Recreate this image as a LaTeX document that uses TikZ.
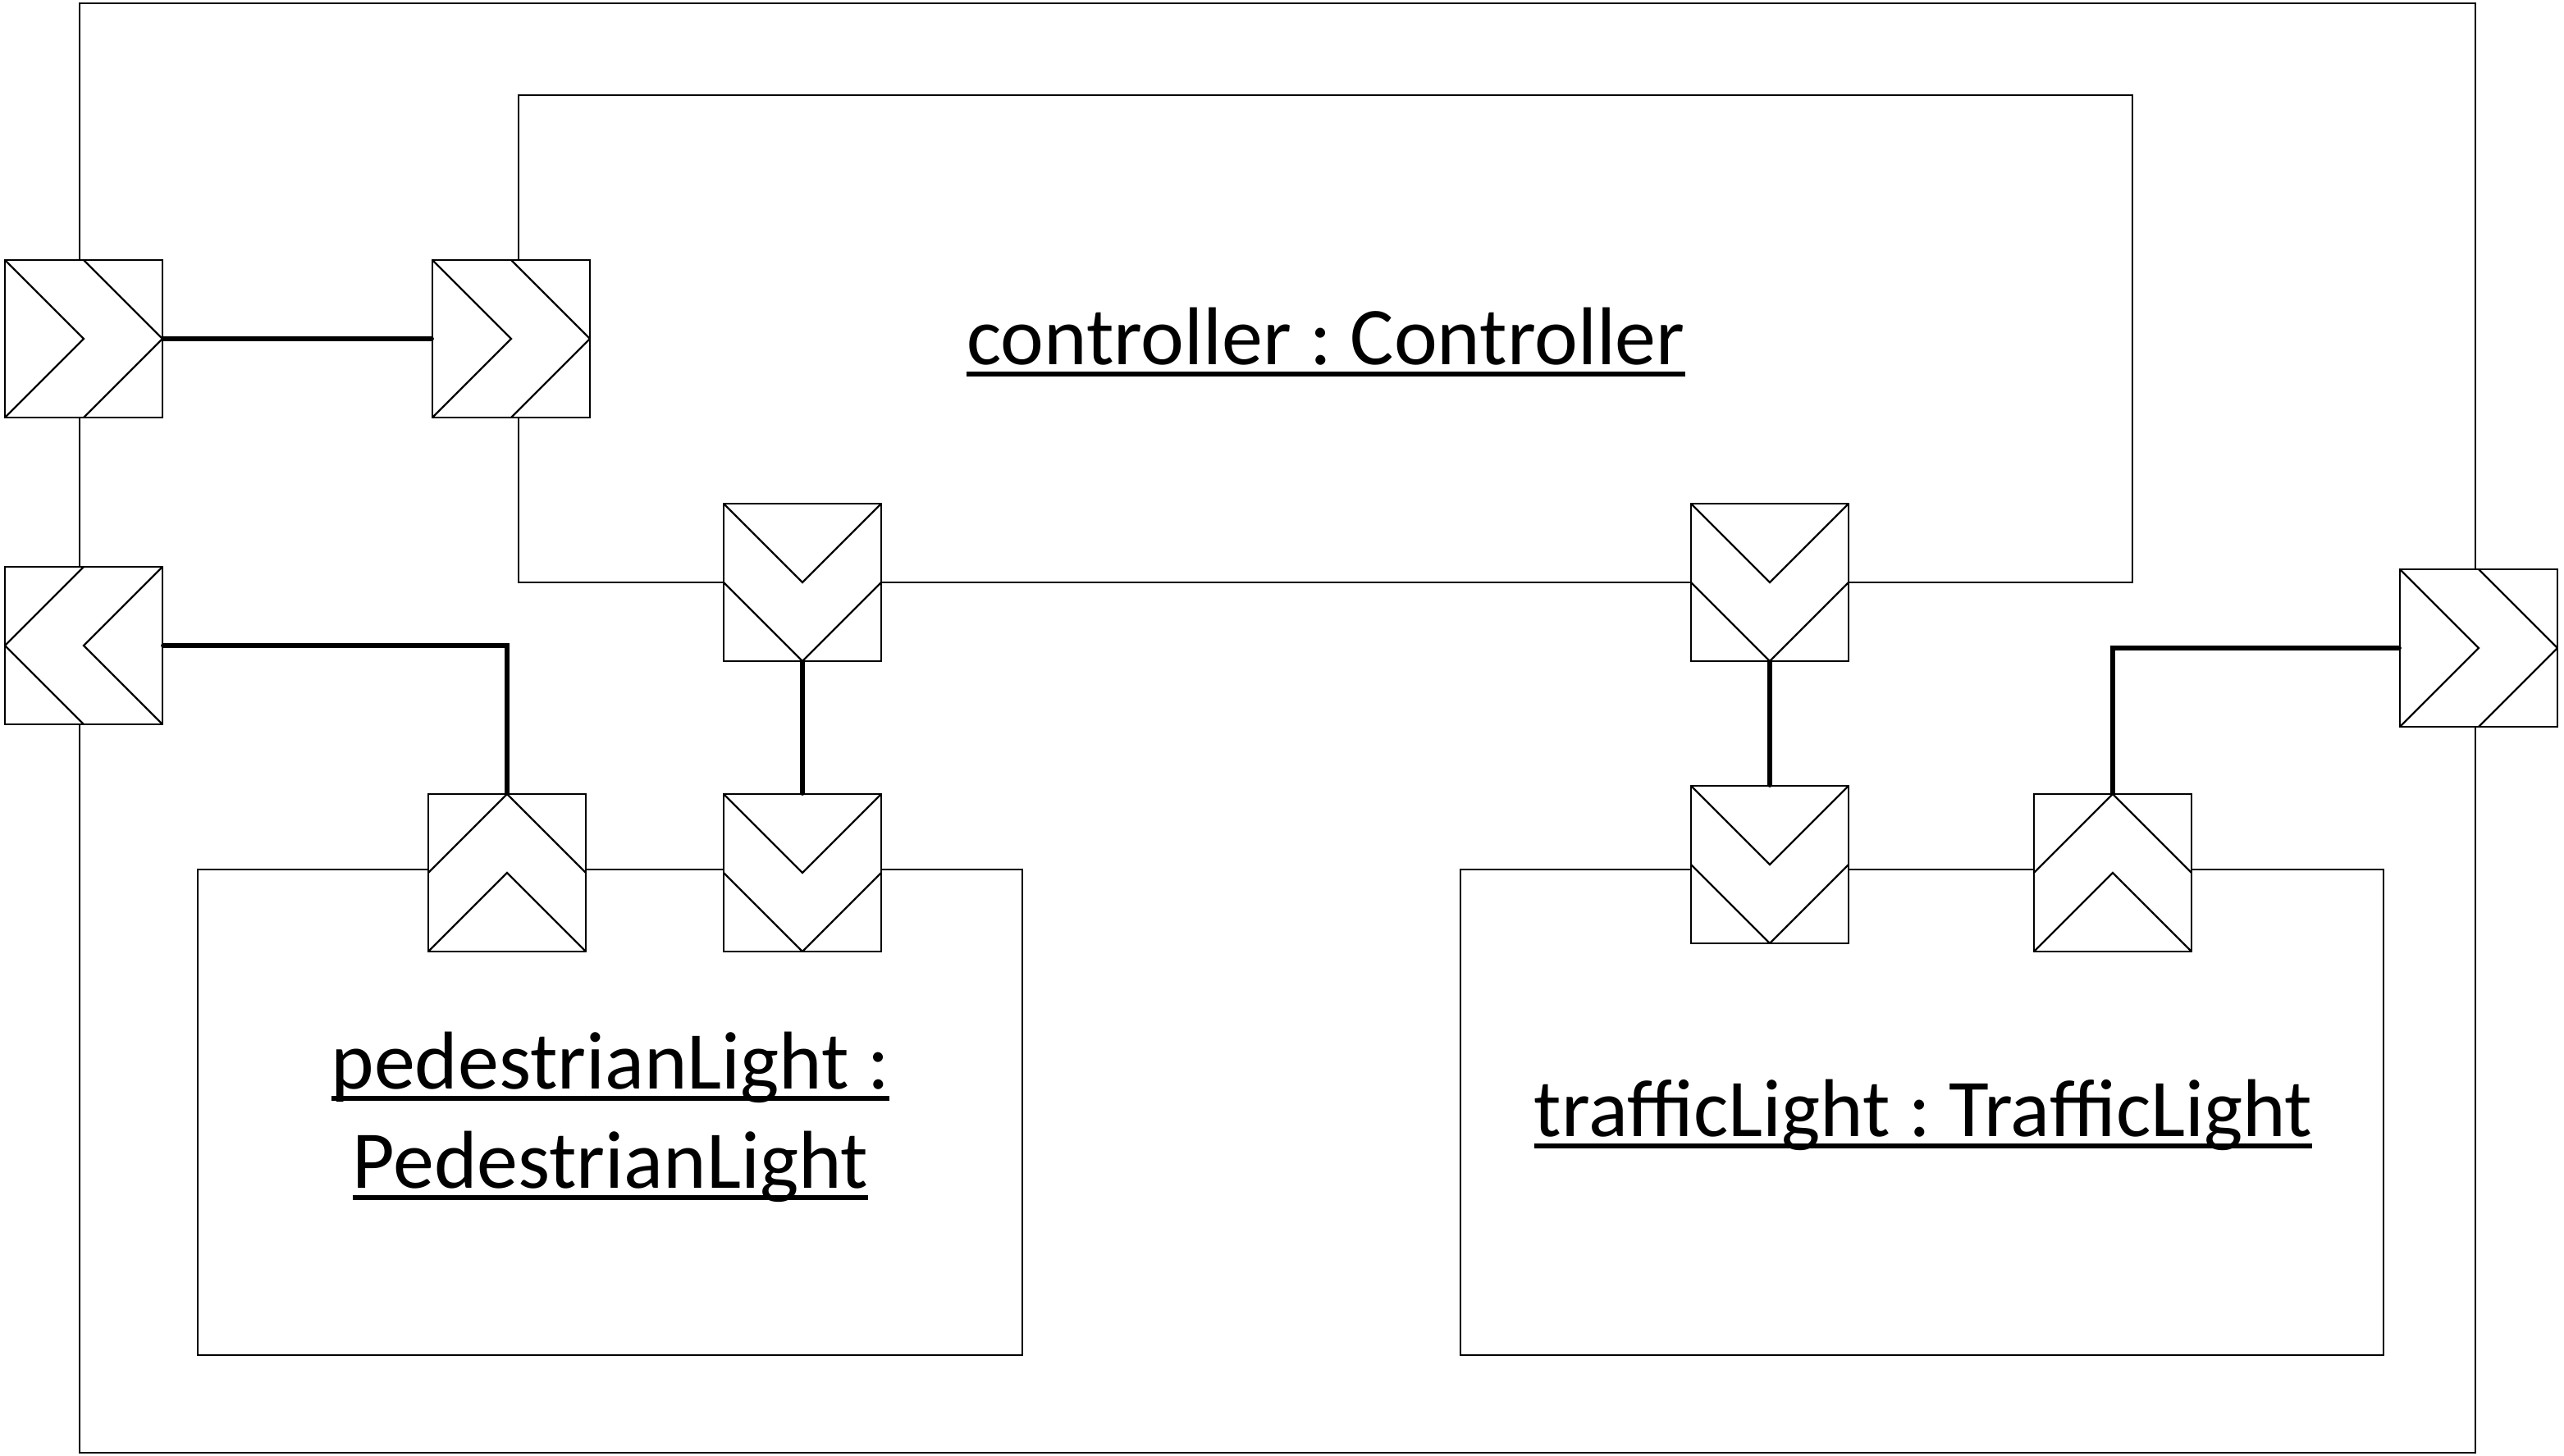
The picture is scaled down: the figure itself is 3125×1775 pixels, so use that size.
\documentclass[tikz,border=0pt]{standalone}
\usepackage{fontspec}
\setmainfont{Carlito}
\frenchspacing
\newcommand\ulx[1]{\setbox0=\hbox{#1}\dp0=0pt\vtop{\box0\kern1.8pt\hrule height 1.2pt}}
\begin{document}
\begin{tikzpicture}[x=0.2pt,y=-0.2pt,
  boxst/.style={draw, line width=0.45pt, inner sep=0pt},
  port/.style={draw, fill=white, line width=0.45pt, inner sep=0pt, minimum width=38.4pt, minimum height=38.4pt},
  portR/.style={port, path picture={
    \draw[line width=0.45pt] (path picture bounding box.north west) -- (path picture bounding box.center) -- (path picture bounding box.south west);
    \draw[line width=0.45pt] (path picture bounding box.north) -- (path picture bounding box.east) -- (path picture bounding box.south);}},
  portL/.style={port, path picture={
    \draw[line width=0.45pt] (path picture bounding box.north east) -- (path picture bounding box.center) -- (path picture bounding box.south east);
    \draw[line width=0.45pt] (path picture bounding box.north) -- (path picture bounding box.west) -- (path picture bounding box.south);}},
  portD/.style={port, path picture={
    \draw[line width=0.45pt] (path picture bounding box.north west) -- (path picture bounding box.center) -- (path picture bounding box.north east);
    \draw[line width=0.45pt] (path picture bounding box.west) -- (path picture bounding box.south) -- (path picture bounding box.east);}},
  portU/.style={port, path picture={
    \draw[line width=0.45pt] (path picture bounding box.west) -- (path picture bounding box.north) -- (path picture bounding box.east);
    \draw[line width=0.45pt] (path picture bounding box.south west) -- (path picture bounding box.center) -- (path picture bounding box.south east);}},
  conn/.style={line width=1.2pt, line cap=round},
  lbl/.style={font=\fontsize{20pt}{24pt}\selectfont, inner sep=0pt, anchor=base}
]
\useasboundingbox (0,0) rectangle (3125,1775);
% boxes
\node[boxst, minimum width=584pt, minimum height=353.4pt] (outer) at (1557,887.5) {};
\node[boxst, minimum width=393.4pt, minimum height=118.8pt] (ctrl) at (1615.5,413) {};
\node[boxst, minimum width=201pt, minimum height=118.4pt] (ped) at (743.5,1356) {};
\node[boxst, minimum width=225pt, minimum height=118.4pt] (traf) at (2342.5,1356) {};
% labels
\node[lbl] (ctrllbl) at (1616,444) {\ulx{controller : Controller}};
\node[lbl] (pedlblA) at (744,1327) {\ulx{pedestrianLight :}};
\node[lbl] (pedlblB) at (744,1448) {\ulx{PedestrianLight}};
\node[lbl] (traflbl) at (2344,1385) {\ulx{trafficLight : TrafficLight}};
% ports
\node[portR] (p1) at (102,413) {};
\node[portL] (p2) at (102,787) {};
\node[portR] (p3) at (623,413) {};
\node[portD] (p4) at (978,710) {};
\node[portD] (p5) at (2157,710) {};
\node[portR] (p6) at (3021,790) {};
\node[portU] (p7) at (618,1064) {};
\node[portD] (p8) at (978,1064) {};
\node[portD] (p9) at (2157,1054) {};
\node[portU] (p10) at (2575,1064) {};
% connectors
\draw[conn] (p1.east) -- (p3.west);
\draw[conn] (p2.east) -| (p7.north);
\draw[conn] (p4.south) -- (p8.north);
\draw[conn] (p5.south) -- (p9.north);
\draw[conn] (p10.north) |- (p6.west);
\end{tikzpicture}
\end{document}
